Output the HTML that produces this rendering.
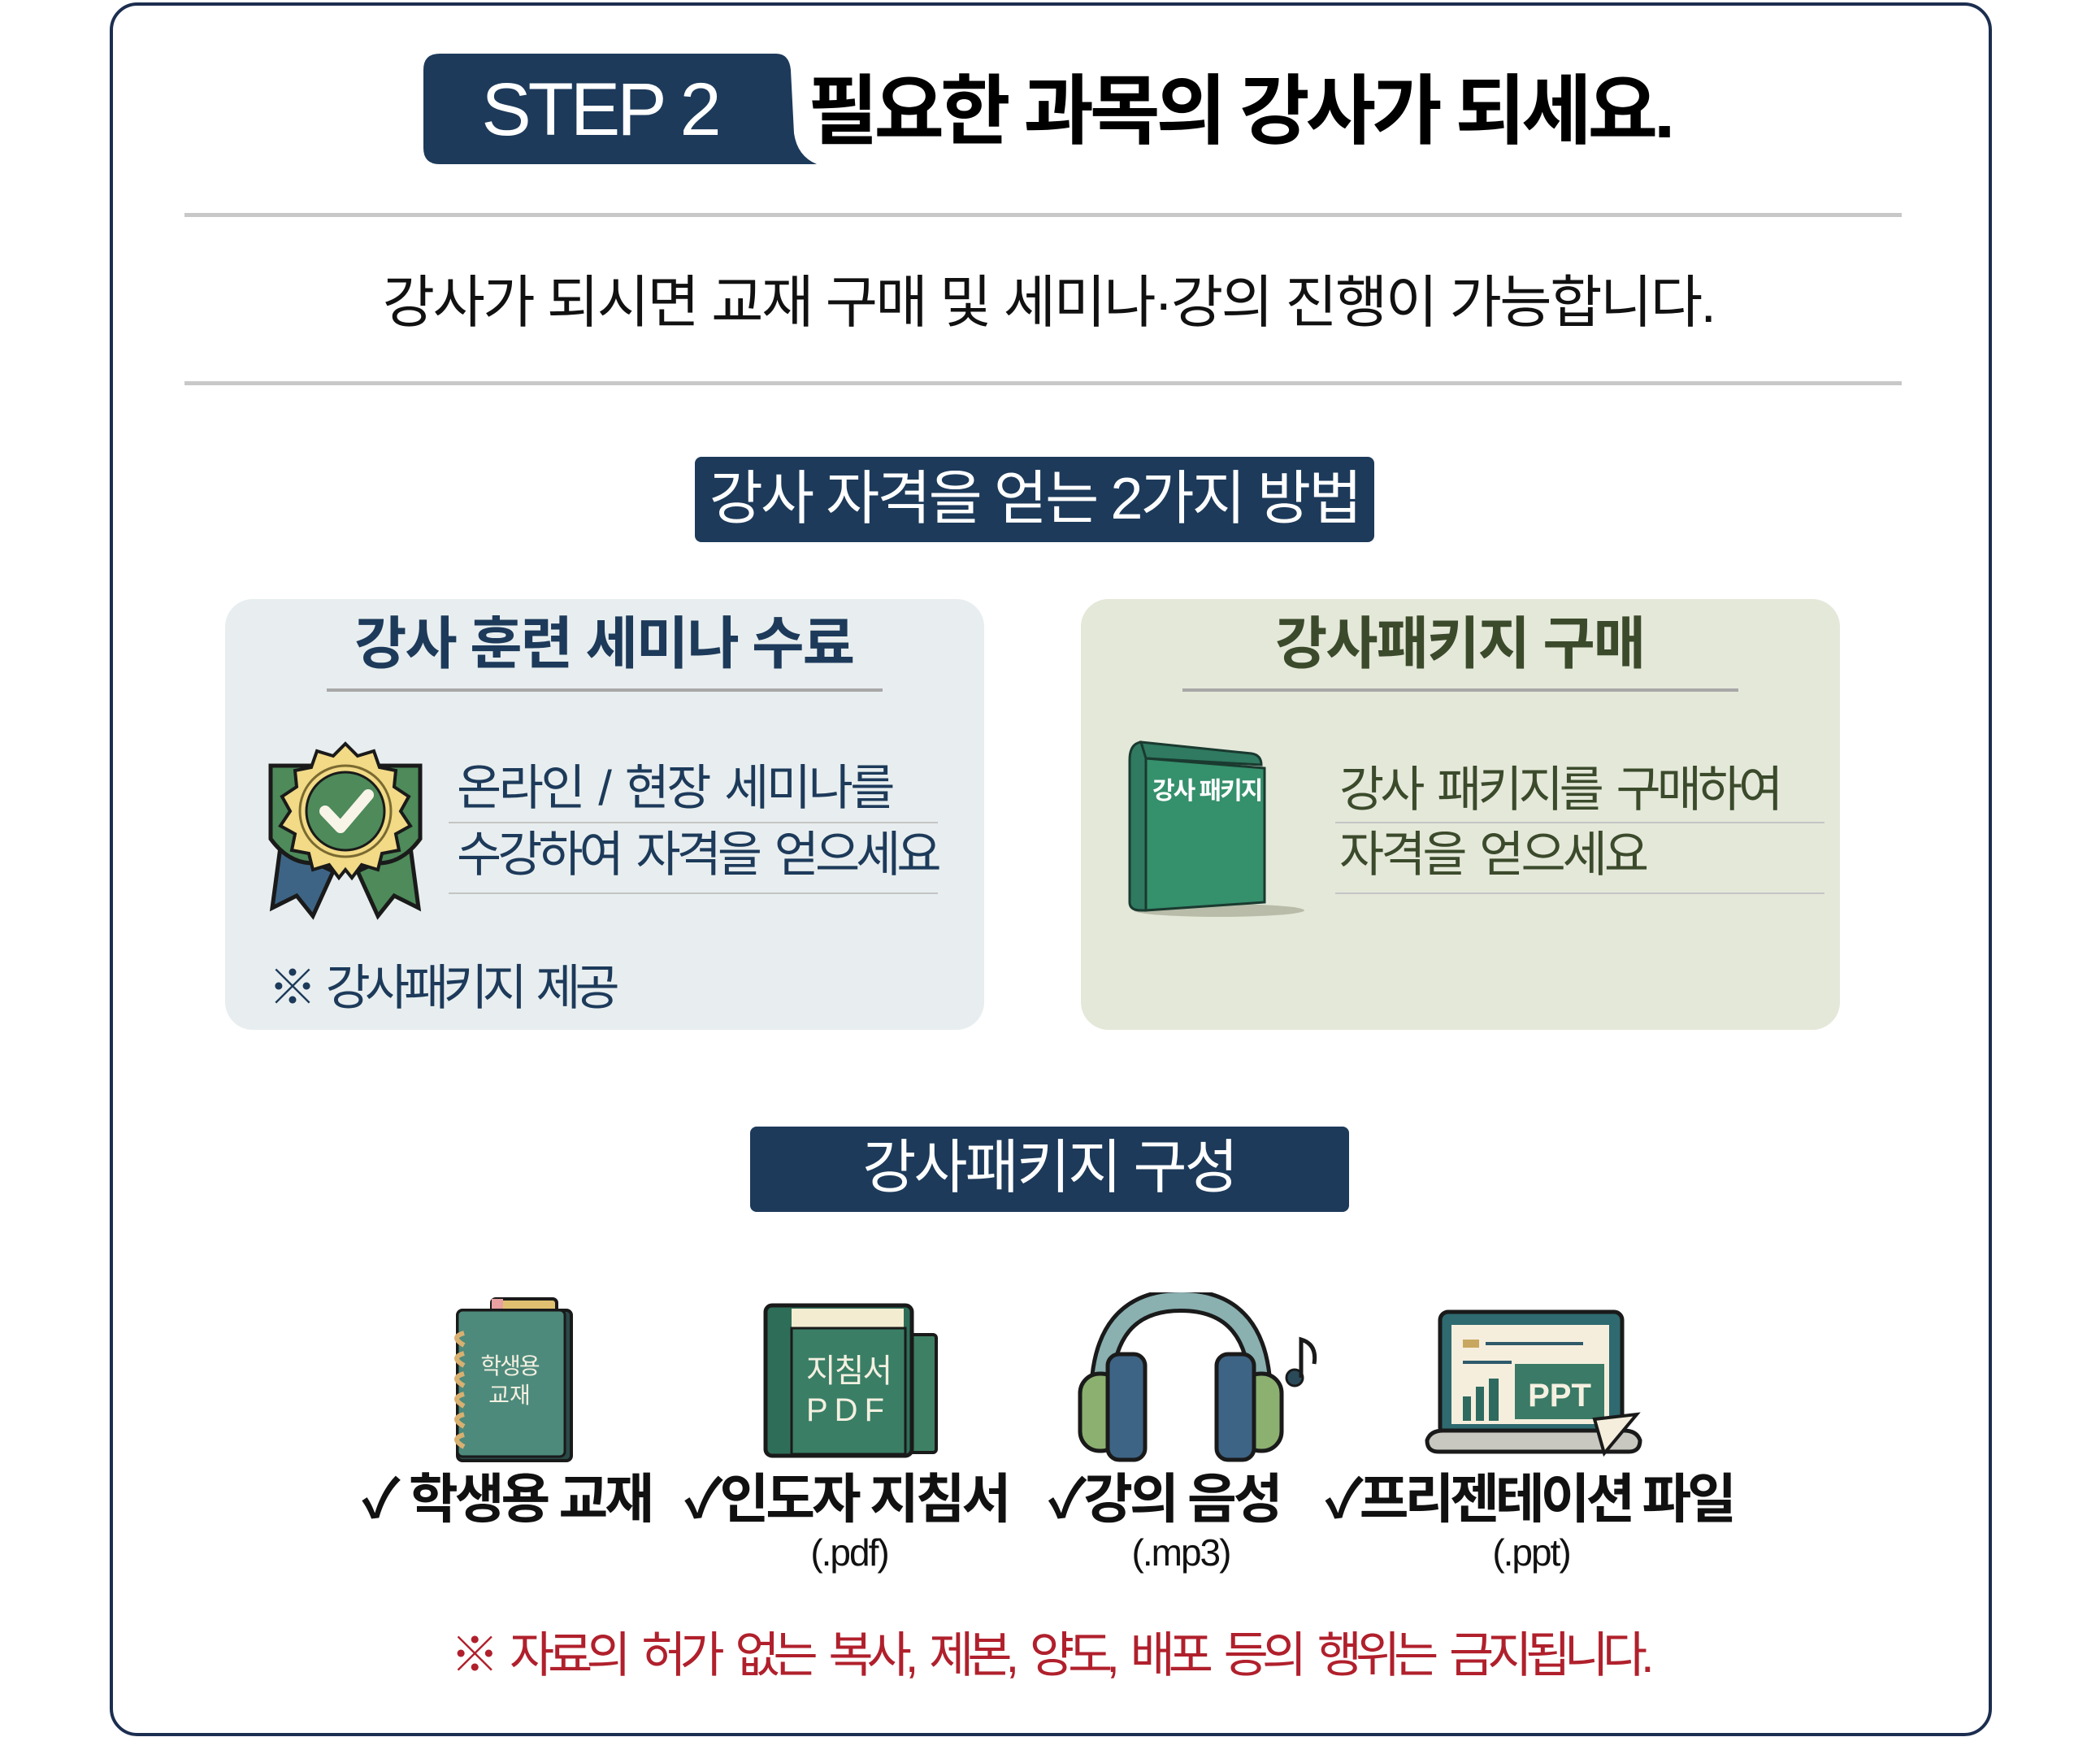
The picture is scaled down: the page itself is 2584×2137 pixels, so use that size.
<!DOCTYPE html>
<html><head><meta charset="utf-8">
<style>
body{margin:0;width:2584px;height:2137px;background:#fff;position:relative;overflow:hidden;font-family:"Liberation Sans","Noto Sans CJK KR",sans-serif;}
.a{position:absolute;white-space:nowrap;line-height:1;}
.c{transform:translate(-50%,-50%);}
.l{transform:translateY(-50%);}
.hr{position:absolute;background:#c8c8c8;}
</style></head><body>
<div style="position:absolute;left:135px;top:3px;width:2308px;height:2125px;border:4px solid #1c2e50;border-radius:34px;"></div>

<svg style="position:absolute;left:515px;top:64px" width="490" height="140">
<path d="M26 2 H440 Q456 2 458 22 L462 100 Q466 128 490 138 H26 Q6 138 6 118 V22 Q6 2 26 2Z" fill="#1d3a5a"/>
</svg>
<div class="a c" style="left:738px;top:135px;font-size:92px;color:#fff;font-weight:normal;letter-spacing:-4px;">STEP 2</div>
<div class="a l" style="left:994px;top:137px;font-size:94px;font-weight:bold;color:#000;letter-spacing:-5px;">필요한 과목의 강사가 되세요.</div>

<div class="hr" style="left:227px;top:262px;width:2113px;height:5px"></div>
<div class="a c" style="left:1290px;top:372px;font-size:70px;color:#111;letter-spacing:-2.6px;">강사가 되시면 교재 구매 및 세미나·강의 진행이 가능합니다.</div>
<div class="hr" style="left:227px;top:469px;width:2113px;height:5px"></div>

<div style="position:absolute;left:855px;top:562px;width:836px;height:105px;background:#1d3a5a;border-radius:8px;"></div>
<div class="a c" style="left:1273px;top:614px;font-size:72px;color:#fff;letter-spacing:-3px;">강사 자격을 얻는 2가지 방법</div>

<!-- left card -->
<div style="position:absolute;left:277px;top:737px;width:934px;height:530px;background:#e8eeef;border-radius:34px;"></div>
<div class="a c" style="left:743px;top:792px;font-size:70px;font-weight:bold;color:#1d3a5a;letter-spacing:-2px;">강사 훈련 세미나 수료</div>
<div class="hr" style="left:402px;top:847px;width:684px;height:4px;background:#a8a8a8"></div>
<div class="a l" style="left:562px;top:970px;font-size:60px;color:#1d3a5a;letter-spacing:-3.5px;word-spacing:6px;">온라인 / 현장 세미나를</div>
<div class="hr" style="left:552px;top:1011px;width:602px;height:2px;background:#c4c4c4"></div>
<div class="a l" style="left:562px;top:1052px;font-size:60px;color:#1d3a5a;letter-spacing:-5px;word-spacing:8px;">수강하여 자격을 얻으세요</div>
<div class="hr" style="left:552px;top:1098px;width:602px;height:2px;background:#c4c4c4"></div>
<div class="a l" style="left:330px;top:1216px;font-size:60px;color:#1d3a5a;letter-spacing:-7px;word-spacing:8px;">※ 강사패키지 제공</div>
<svg style="position:absolute;left:325px;top:912px" width="200" height="222" viewBox="0 0 200 222">
<path d="M20 130 L10 205 L40 190 L60 215 L85 160Z" fill="#3d6485" stroke="#1a1a1a" stroke-width="5"/>
<path d="M180 130 L190 205 L160 190 L140 215 L115 160Z" fill="#4e8a5a" stroke="#1a1a1a" stroke-width="5"/>
<path d="M8 30 L8 120 Q30 150 60 150 L60 30Z" fill="#4e8a5a" stroke="#1a1a1a" stroke-width="5"/>
<path d="M192 30 L192 120 Q170 150 140 150 L140 30Z" fill="#4e8a5a" stroke="#1a1a1a" stroke-width="5"/>
<polygon points="100,3 115,18 135,12 142,32 162,36 160,56 178,68 168,86 180,104 162,114 166,134 145,138 140,158 120,152 108,168 100,158 92,168 80,152 60,158 55,138 34,134 38,114 20,104 32,86 22,68 40,56 38,36 58,32 65,12 85,18" fill="#f2da86" stroke="#1a1a1a" stroke-width="4"/>
<circle cx="100" cy="86" r="56" fill="none" stroke="#7a6a30" stroke-width="3"/>
<circle cx="100" cy="86" r="48" fill="#4e8a5a" stroke="#1a1a1a" stroke-width="3"/>
<path d="M75 86 L94 106 L128 66" fill="none" stroke="#f8f4e8" stroke-width="14" stroke-linecap="round" stroke-linejoin="round"/>
</svg>

<!-- right card -->
<div style="position:absolute;left:1330px;top:737px;width:934px;height:530px;background:#e4e8d9;border-radius:34px;"></div>
<div class="a c" style="left:1796px;top:792px;font-size:70px;font-weight:bold;color:#3b4a2b;letter-spacing:-2px;">강사패키지 구매</div>
<div class="hr" style="left:1455px;top:847px;width:684px;height:4px;background:#a8a8a8"></div>
<div class="a l" style="left:1648px;top:972px;font-size:60px;color:#3b4a2b;letter-spacing:-5px;word-spacing:8px;">강사 패키지를 구매하여</div>
<div class="hr" style="left:1643px;top:1011px;width:602px;height:2px;background:#c4c4c4"></div>
<div class="a l" style="left:1648px;top:1052px;font-size:60px;color:#3b4a2b;letter-spacing:-4px;word-spacing:6px;">자격을 얻으세요</div>
<div class="hr" style="left:1643px;top:1098px;width:602px;height:2px;background:#c4c4c4"></div>
<svg style="position:absolute;left:1380px;top:905px" width="230" height="225" viewBox="0 0 230 225">
<ellipse cx="120" cy="215" rx="105" ry="8" fill="#b8bca8"/>
<path d="M24 8 Q10 10 10 30 V205 Q10 215 24 215 L30 215 V20Z" fill="#2f7a60" stroke="#1a3a30" stroke-width="3"/>
<rect x="50" y="14" width="24" height="16" fill="#8cc080"/><rect x="76" y="16" width="24" height="16" fill="#b8d8a0"/><rect x="102" y="18" width="24" height="16" fill="#a0d0d0"/><rect x="128" y="20" width="24" height="16" fill="#e8b040"/>
<path d="M24 8 L160 22 Q172 24 172 36 L30 28Z" fill="#2f7a60" stroke="#1a3a30" stroke-width="3"/>
<path d="M30 28 L176 40 V205 L30 215Z" fill="#35906c" stroke="#1a3a30" stroke-width="3"/>
<text x="38" y="78" font-size="30" fill="#fff" font-family="Liberation Sans,Noto Sans CJK KR,sans-serif" font-weight="bold" letter-spacing="-2">강사 패키지</text>
</svg>

<div style="position:absolute;left:923px;top:1386px;width:737px;height:105px;background:#1d3a5a;border-radius:8px;"></div>
<div class="a c" style="left:1291px;top:1437px;font-size:72px;color:#fff;letter-spacing:-3px;">강사패키지 구성</div>

<!-- icons -->
<svg style="position:absolute;left:545px;top:1590px" width="165" height="212" viewBox="0 0 165 212">
<rect x="60" y="8" width="80" height="22" rx="5" fill="#e0c070" stroke="#1a1a1a" stroke-width="4"/>
<rect x="60" y="8" width="14" height="22" fill="#e8a0a0"/>
<rect x="18" y="22" width="140" height="185" rx="6" fill="#2a4a48" stroke="#1a1a1a" stroke-width="4"/>
<rect x="18" y="22" width="132" height="180" rx="6" fill="#4d8a7c" stroke="#1a1a1a" stroke-width="3"/>
<g fill="none" stroke="#d8b070" stroke-width="6">
<path d="M26 50 q-18 5 0 15"/><path d="M26 75 q-18 5 0 15"/><path d="M26 100 q-18 5 0 15"/><path d="M26 125 q-18 5 0 15"/><path d="M26 150 q-18 5 0 15"/><path d="M26 175 q-18 5 0 15"/></g>
<text x="82" y="100" font-size="28" fill="#f4f0e0" text-anchor="middle" font-family="Liberation Sans,Noto Sans CJK KR,sans-serif" letter-spacing="-2">학생용</text>
<text x="82" y="136" font-size="28" fill="#f4f0e0" text-anchor="middle" font-family="Liberation Sans,Noto Sans CJK KR,sans-serif">교재</text>
</svg>
<svg style="position:absolute;left:938px;top:1600px" width="220" height="195" viewBox="0 0 220 195">
<rect x="170" y="42" width="44" height="145" rx="4" fill="#3e8064" stroke="#1a1a1a" stroke-width="4"/>
<rect x="4" y="6" width="180" height="185" rx="8" fill="#2e6e58" stroke="#1a1a1a" stroke-width="5"/>
<rect x="36" y="10" width="138" height="24" fill="#f4ecd0"/>
<rect x="36" y="34" width="140" height="155" fill="#3a7e66" stroke="#1a1a1a" stroke-width="3"/>
<text x="106" y="100" font-size="40" fill="#f4f0e0" text-anchor="middle" font-family="Liberation Sans,Noto Sans CJK KR,sans-serif" letter-spacing="-2">지침서</text>
<text x="106" y="148" font-size="40" fill="#f4f0e0" text-anchor="middle" font-family="Liberation Sans,sans-serif" letter-spacing="8">PDF</text>
</svg>
<svg style="position:absolute;left:1325px;top:1590px" width="300" height="210" viewBox="0 0 300 210">
<path d="M30 130 Q30 10 128 10 Q226 10 226 130" fill="none" stroke="#1a1a1a" stroke-width="30"/>
<path d="M30 130 Q30 10 128 10 Q226 10 226 130" fill="none" stroke="#8ab0b0" stroke-width="20"/>
<rect x="4" y="100" width="50" height="95" rx="24" fill="#8cb070" stroke="#1a1a1a" stroke-width="5"/>
<rect x="202" y="100" width="50" height="95" rx="24" fill="#8cb070" stroke="#1a1a1a" stroke-width="5"/>
<rect x="38" y="76" width="46" height="130" rx="14" fill="#3d6485" stroke="#1a1a1a" stroke-width="5"/>
<rect x="172" y="76" width="46" height="130" rx="14" fill="#3d6485" stroke="#1a1a1a" stroke-width="5"/>
<circle cx="268" cy="105" r="10" fill="#2a4a5a" stroke="#1a1a1a" stroke-width="3"/>
<path d="M276 105 V58 Q296 64 292 88" fill="none" stroke="#1a1a1a" stroke-width="5"/>
</svg>
<svg style="position:absolute;left:1752px;top:1608px" width="270" height="185" viewBox="0 0 270 185">
<rect x="20" y="6" width="224" height="152" rx="10" fill="#2e6a70" stroke="#1a1a1a" stroke-width="5"/>
<rect x="34" y="22" width="194" height="122" fill="#f6eedd"/>
<rect x="48" y="40" width="20" height="10" fill="#c8a860"/><rect x="76" y="43" width="120" height="4" fill="#2e5a6a"/>
<rect x="48" y="66" width="60" height="4" fill="#2e5a6a"/>
<rect x="48" y="110" width="10" height="30" fill="#2e6a60"/><rect x="64" y="98" width="10" height="42" fill="#2e6a60"/><rect x="80" y="88" width="12" height="52" fill="#2e6a60"/>
<rect x="112" y="70" width="110" height="68" fill="#3a7a66"/>
<text x="167" y="122" font-size="40" font-weight="bold" fill="#f6f0e0" text-anchor="middle" font-family="Liberation Sans,sans-serif">PPT</text>
<path d="M4 164 Q8 152 24 152 H246 Q262 152 266 164 Q266 178 252 178 H18 Q4 178 4 164Z" fill="#c8c8c0" stroke="#1a1a1a" stroke-width="5"/>
<polygon points="210,138 262,132 222,180" fill="#f6eedd" stroke="#1a1a1a" stroke-width="4"/>
</svg>

<div class="a c" style="left:623px;top:1844px;font-size:66px;font-weight:bold;color:#111;letter-spacing:-4px;">✓ 학생용 교재</div>
<div class="a c" style="left:1041px;top:1844px;font-size:66px;font-weight:bold;color:#111;letter-spacing:-4px;">✓인도자 지침서</div>
<div class="a c" style="left:1432px;top:1844px;font-size:66px;font-weight:bold;color:#111;letter-spacing:-4px;">✓강의 음성</div>
<div class="a c" style="left:1881px;top:1844px;font-size:66px;font-weight:bold;color:#111;letter-spacing:-5px;">✓프리젠테이션 파일</div>
<div class="a c" style="left:1045px;top:1910px;font-size:46px;color:#111;letter-spacing:-2px;">(.pdf)</div>
<div class="a c" style="left:1453px;top:1910px;font-size:46px;color:#111;letter-spacing:-2px;">(.mp3)</div>
<div class="a c" style="left:1884px;top:1910px;font-size:46px;color:#111;letter-spacing:-2px;">(.ppt)</div>

<div class="a c" style="left:1291px;top:2037px;font-size:60px;color:#b0202c;letter-spacing:-8px;word-spacing:12px;">※ 자료의 허가 없는 복사, 제본, 양도, 배포 등의 행위는 금지됩니다.</div>
</body></html>
